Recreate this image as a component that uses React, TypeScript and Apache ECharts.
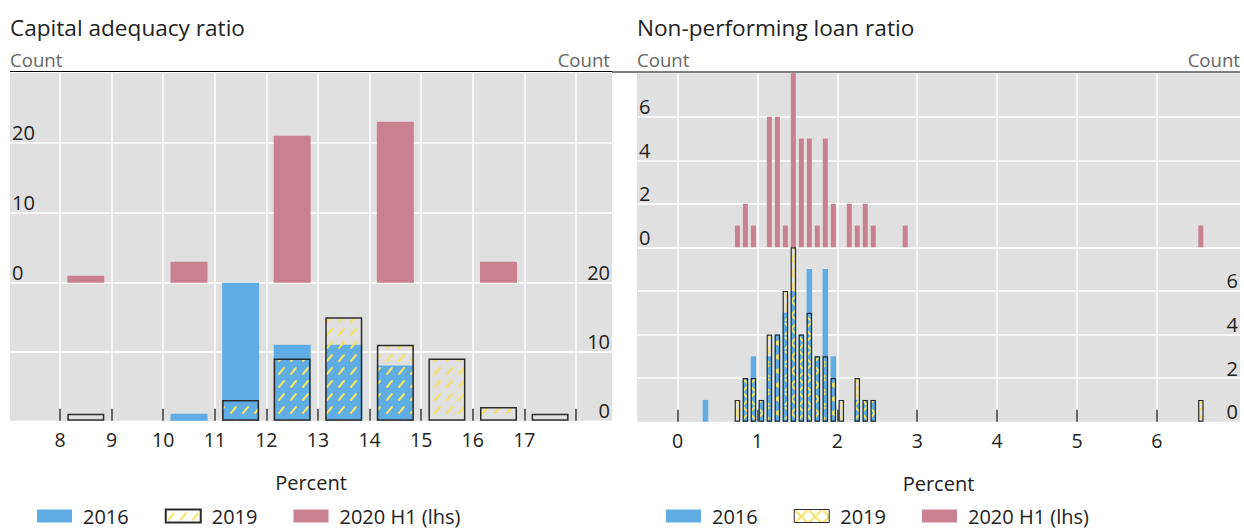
import React, { useEffect, useRef } from 'react';
import * as echarts from 'echarts';

// ---------- Capital adequacy ratio (bin centres in percent, counts) ----------
const carBins = [8.5, 9.5, 10.5, 11.5, 12.5, 13.5, 14.5, 15.5, 16.5, 17.5];
const car2016 = [0, 0, 1, 20, 11, 11, 8, 0, 0, 0];
const car2019 = [1, 0, 0, 3, 9, 15, 11, 9, 2, 1];
const car2020H1 = [1, 0, 3, 0, 21, 0, 23, 0, 3, 0];
const carTickValues = [8, 9, 10, 11, 12, 13, 14, 15, 16, 17, 18];
const carTickLabels = [8, 9, 10, 11, 12, 13, 14, 15, 16, 17];

// ---------- Non-performing loan ratio (bin centres in percent, counts) ----------
const nplBins = [0.35, 0.75, 0.85, 0.95, 1.05, 1.15, 1.25, 1.35, 1.45, 1.55, 1.65, 1.75, 1.85, 1.95, 2.05, 2.15, 2.25, 2.35, 2.45, 2.85, 6.55];
const npl2016 = [1, 0, 2, 3, 1, 3, 4, 5, 6, 4, 7, 3, 7, 3, 0, 0, 1, 1, 1, 0, 0];
const npl2019 = [0, 1, 2, 2, 1, 4, 4, 6, 8, 4, 5, 3, 3, 2, 1, 0, 2, 1, 1, 0, 1];
const npl2020H1 = [0, 1, 2, 1, 0, 6, 6, 1, 8, 5, 5, 1, 5, 2, 0, 2, 1, 2, 1, 1, 1];
const nplTickValues = [0, 1, 2, 3, 4, 5, 6];

const seriesNames = ['2016', '2019', '2020 H1 (lhs)'];
const titles = ['Capital adequacy ratio', 'Non-performing loan ratio'];
const countLabel = 'Count';
const xName = 'Percent';

const FONT = "'Open Sans', 'Noto Sans', sans-serif";
const BG = '#e0e0e0';
const BLUE = '#5fade4';
const PINK = '#c98090';
const EDGE = '#2a2a2a';
const TXT = '#222222';
const HATCH = '#f2e466';

function pairs(bins: number[], vals: number[]) {
  return bins.map((b, i) => [b, vals[i]]).filter((p) => p[1] > 0);
}

function makeDashTile(): HTMLCanvasElement {
  const c = document.createElement('canvas');
  c.width = 12;
  c.height = 13;
  const g = c.getContext('2d')!;
  g.strokeStyle = HATCH;
  g.lineWidth = 2;
  g.lineCap = 'round';
  g.beginPath();
  g.moveTo(3, 10);
  g.lineTo(8, 4);
  g.stroke();
  return c;
}

function makeCrossTile(): HTMLCanvasElement {
  const c = document.createElement('canvas');
  c.width = 14;
  c.height = 14;
  const g = c.getContext('2d')!;
  g.strokeStyle = HATCH;
  g.lineWidth = 2;
  g.beginPath();
  g.moveTo(1, 1);
  g.lineTo(13, 13);
  g.moveTo(13, 1);
  g.lineTo(1, 13);
  g.stroke();
  return c;
}

function xAxisCfg(gridIndex: number, min: number, max: number, ticks: number[], labels: number[], lower: boolean) {
  return {
    type: 'value',
    gridIndex,
    min,
    max,
    axisLine: { show: false },
    axisTick: {
      show: lower,
      customValues: ticks,
      inside: true,
      length: 12,
      lineStyle: { color: '#333', width: 1.5 },
    },
    axisLabel: {
      show: lower,
      customValues: labels,
      fontSize: 19.5,
      color: TXT,
      margin: 9,
      fontFamily: FONT,
    },
    splitLine: { show: true, lineStyle: { color: '#ffffff', width: 1.5 } },
    name: lower ? xName : '',
    nameLocation: 'middle',
    nameGap: 52,
    nameTextStyle: { fontSize: 20, color: TXT, fontFamily: FONT },
  };
}

function yAxisCfg(gridIndex: number, max: number, interval: number, position: 'left' | 'right', showMaxLabel: boolean, showMinLine: boolean) {
  return {
    type: 'value',
    gridIndex,
    min: 0,
    max,
    interval,
    position,
    axisLine: { show: false },
    axisTick: { show: false },
    axisLabel: {
      inside: true,
      verticalAlign: 'bottom',
      margin: 2,
      fontSize: 20,
      color: TXT,
      fontFamily: FONT,
      showMaxLabel,
    },
    splitLine: {
      show: true,
      showMinLine,
      showMaxLine: false,
      lineStyle: { color: '#ffffff', width: 1.5 },
    },
  };
}

export default function App() {
  const ref = useRef<HTMLDivElement>(null);

  useEffect(() => {
    document.body.style.margin = '0';
    if (!ref.current) return;
    const chart = echarts.init(ref.current, undefined, { renderer: 'svg' });
    const patL = { image: makeDashTile(), repeat: 'repeat' };
    const patR = { image: makeCrossTile(), repeat: 'repeat' };

    const gridBase = { show: true, backgroundColor: BG, borderWidth: 0, containLabel: false };

    const legendBase = {
      top: 501,
      itemWidth: 35,
      itemHeight: 13,
      itemGap: 36,
      icon: 'rect',
      selectedMode: false,
      textStyle: { fontSize: 20, color: TXT, fontFamily: FONT, padding: [0, 0, 0, 6] },
    };

    const option: any = {
      animation: false,
      textStyle: { fontFamily: FONT },
      grid: [
        { ...gridBase, left: 10, top: 72.7, width: 602, height: 210 },
        { ...gridBase, left: 10, top: 282.7, width: 602, height: 138 },
        { ...gridBase, left: 637, top: 73.3, width: 603, height: 174 },
        { ...gridBase, left: 637, top: 247.3, width: 603, height: 174.4 },
      ],
      xAxis: [
        xAxisCfg(0, 7.03, 18.7, carTickValues, carTickLabels, false),
        xAxisCfg(1, 7.03, 18.7, carTickValues, carTickLabels, true),
        xAxisCfg(2, -0.507, 7.04, nplTickValues, nplTickValues, false),
        xAxisCfg(3, -0.507, 7.04, nplTickValues, nplTickValues, true),
      ],
      yAxis: [
        yAxisCfg(0, 30, 10, 'left', false, true),
        yAxisCfg(1, 20, 10, 'right', true, false),
        yAxisCfg(2, 8, 2, 'left', false, true),
        yAxisCfg(3, 8, 2, 'right', false, false),
      ],
      legend: [
        { ...legendBase, left: 32, data: seriesNames },
        {
          ...legendBase,
          left: 661,
          data: [
            { name: seriesNames[0] },
            { name: seriesNames[1], itemStyle: { color: patR, borderColor: EDGE, borderWidth: 1 } },
            { name: seriesNames[2] },
          ],
        },
      ],
      series: [
        {
          type: 'bar', name: seriesNames[2], xAxisIndex: 0, yAxisIndex: 0, barWidth: 37,
          data: pairs(carBins, car2020H1), itemStyle: { color: PINK },
        },
        {
          type: 'bar', name: seriesNames[0], xAxisIndex: 1, yAxisIndex: 1, barWidth: 37, barGap: '-100%',
          data: pairs(carBins, car2016), itemStyle: { color: BLUE },
        },
        {
          type: 'bar', name: seriesNames[1], xAxisIndex: 1, yAxisIndex: 1, barWidth: 37, barGap: '-100%',
          data: pairs(carBins, car2019), itemStyle: { color: patL, borderColor: EDGE, borderWidth: 1.5 },
        },
        {
          type: 'bar', name: seriesNames[2], xAxisIndex: 2, yAxisIndex: 2, barWidth: 5,
          data: pairs(nplBins, npl2020H1), itemStyle: { color: PINK },
        },
        {
          type: 'bar', name: seriesNames[0], xAxisIndex: 3, yAxisIndex: 3, barWidth: 5.5, barGap: '-100%',
          data: pairs(nplBins, npl2016), itemStyle: { color: BLUE },
        },
        {
          type: 'bar', name: seriesNames[1], xAxisIndex: 3, yAxisIndex: 3, barWidth: 5.5, barGap: '-100%',
          data: pairs(nplBins, npl2019), itemStyle: { color: patR, borderColor: EDGE, borderWidth: 1.2 },
        },
      ],
      graphic: [
        { type: 'text', x: 10, y: 27, style: { text: titles[0], fontSize: 22.6, fill: TXT, fontFamily: FONT, verticalAlign: 'middle', align: 'left' } },
        { type: 'text', x: 637, y: 27, style: { text: titles[1], fontSize: 22.6, fill: TXT, fontFamily: FONT, verticalAlign: 'middle', align: 'left' } },
        { type: 'text', x: 10, y: 59, style: { text: countLabel, fontSize: 18.6, fill: '#666', fontFamily: FONT, verticalAlign: 'middle', align: 'left' } },
        { type: 'text', x: 610, y: 59, style: { text: countLabel, fontSize: 18.6, fill: '#666', fontFamily: FONT, verticalAlign: 'middle', align: 'right' } },
        { type: 'text', x: 637, y: 59, style: { text: countLabel, fontSize: 18.6, fill: '#666', fontFamily: FONT, verticalAlign: 'middle', align: 'left' } },
        { type: 'text', x: 1240, y: 59, style: { text: countLabel, fontSize: 18.6, fill: '#666', fontFamily: FONT, verticalAlign: 'middle', align: 'right' } },
        { type: 'line', shape: { x1: 10, y1: 71.5, x2: 612, y2: 71.5 }, style: { stroke: '#000', lineWidth: 1.2 } },
        { type: 'line', shape: { x1: 612, y1: 72, x2: 1240, y2: 72 }, style: { stroke: '#000', lineWidth: 1.2 } },
      ],
    };

    chart.setOption(option);
    return () => chart.dispose();
  }, []);

  return (
    <div
      ref={ref}
      style={{ position: 'absolute', left: 0, top: 0, width: 1244, height: 529, background: '#fff' }}
    />
  );
}
